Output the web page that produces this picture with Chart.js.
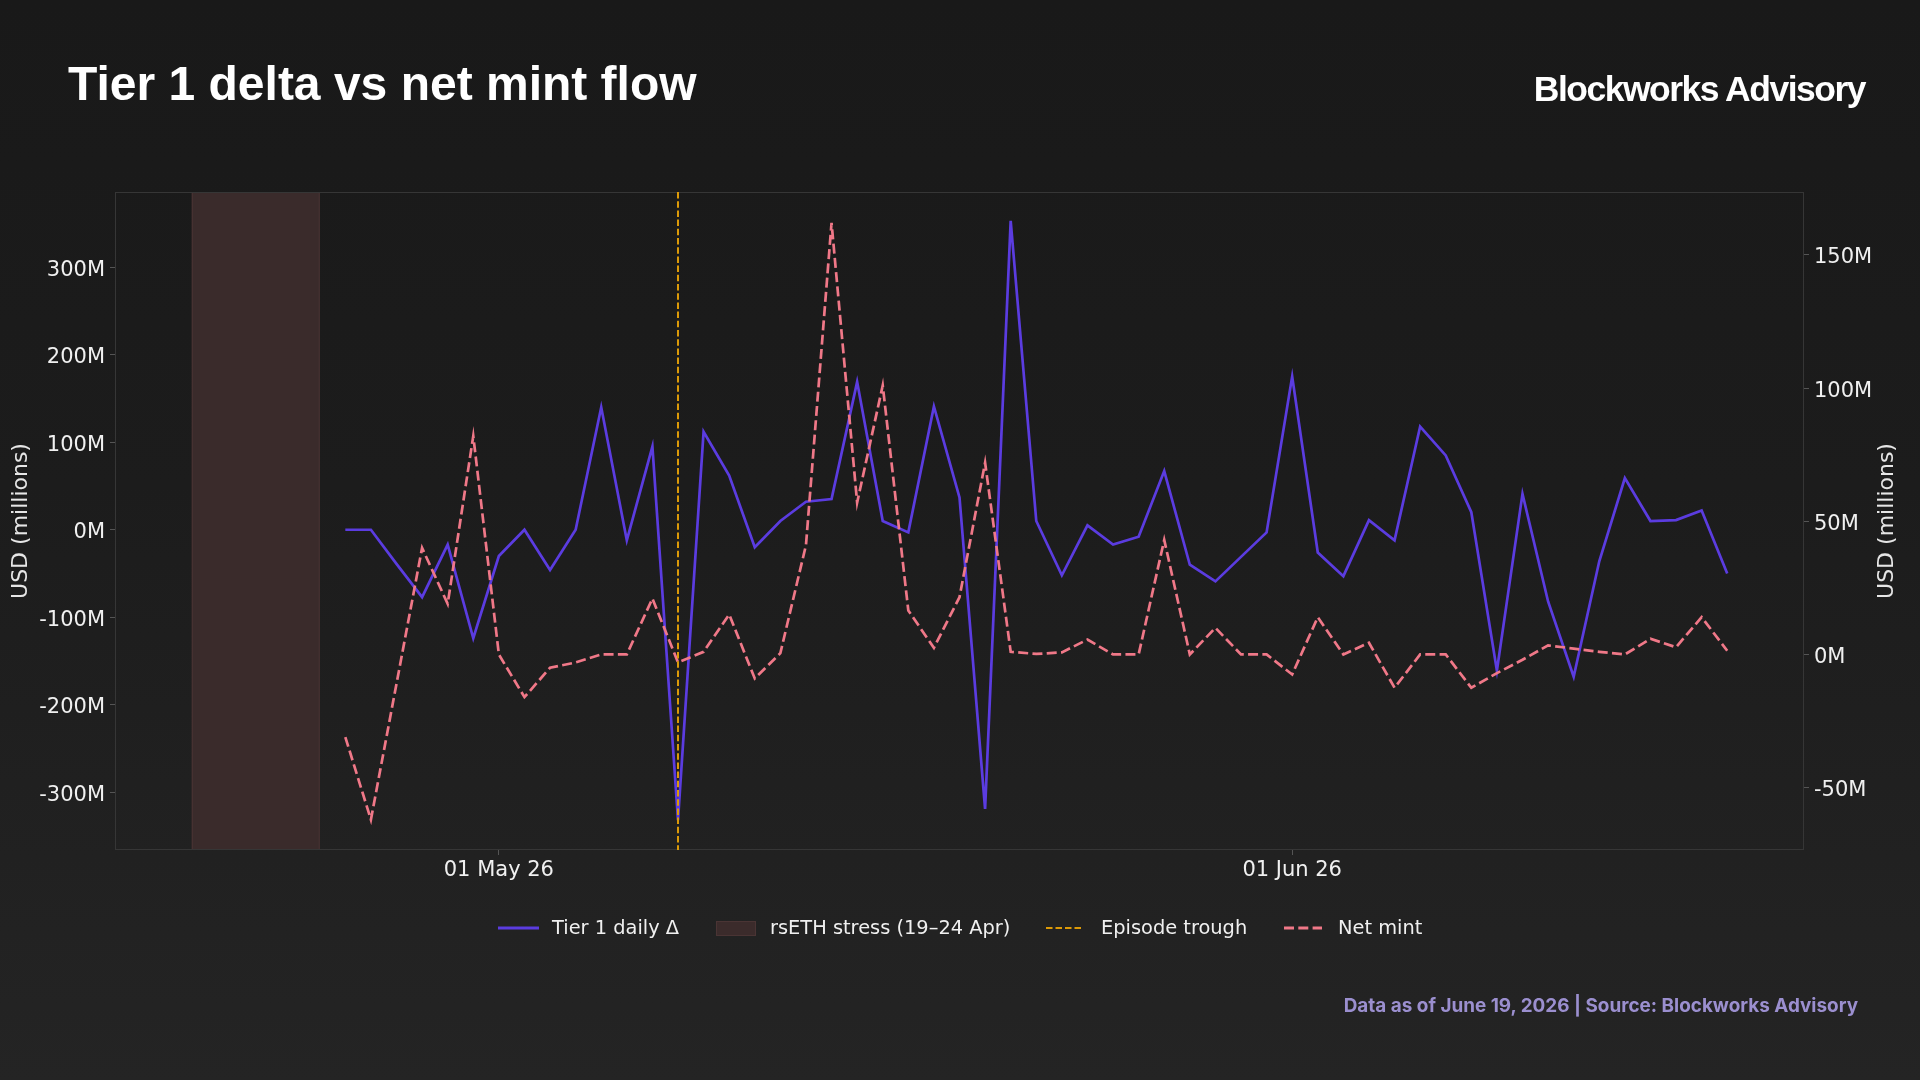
<!DOCTYPE html>
<html><head><meta charset="utf-8">
<script src="https://cdn.jsdelivr.net/npm/chart.js@4.4.1/dist/chart.umd.min.js"></script>
<style>
html,body{margin:0;padding:0;width:1920px;height:1080px;overflow:hidden;}
body{background:linear-gradient(180deg,#191919 0%,#1c1c1c 45%,#242424 100%);position:relative;font-family:'DejaVu Sans',sans-serif;}
#c{position:absolute;left:0;top:0;}
.t{position:absolute;white-space:nowrap;}
#title{left:68px;top:60px;font:bold 48px 'Liberation Sans',Arial,sans-serif;line-height:48px;color:#fff;}
#brand{right:55px;top:72px;font:bold 35.5px 'Liberation Sans',Arial,sans-serif;line-height:35px;letter-spacing:-1.5px;color:#fff;}
#foot{right:62px;top:997px;font:700 18.9px Inter,sans-serif;line-height:18px;color:#9b8fcf;}
.lg{position:absolute;top:916px;font:19.4px 'DejaVu Sans',sans-serif;line-height:24px;color:#f0f0f0;white-space:nowrap;}
.sw{position:absolute;}
</style></head>
<body>
<canvas id="c" width="1920" height="1080"></canvas>
<div id="title" class="t">Tier 1 delta vs net mint flow</div>
<div id="brand" class="t">Blockworks Advisory</div>
<svg class="sw" style="left:498px;top:920px" width="42" height="16"><line x1="0" y1="8" x2="41" y2="8" stroke="#5b3ce0" stroke-width="3"/></svg>
<div class="lg" style="left:552px">Tier 1 daily Δ</div>
<svg class="sw" style="left:716px;top:921px" width="40" height="15"><rect x="0.5" y="0.5" width="39" height="14" fill="#3b2b2b" stroke="#4a3434"/></svg>
<div class="lg" style="left:770px">rsETH stress (19–24 Apr)</div>
<svg class="sw" style="left:1046px;top:920px" width="40" height="16"><line x1="0" y1="8" x2="38" y2="8" stroke="#dc9a08" stroke-width="2" stroke-dasharray="6.5,3"/></svg>
<div class="lg" style="left:1101px">Episode trough</div>
<svg class="sw" style="left:1284px;top:920px" width="40" height="16"><line x1="0" y1="8" x2="38" y2="8" stroke="#f07888" stroke-width="3" stroke-dasharray="10,4.3"/></svg>
<div class="lg" style="left:1338px">Net mint</div>
<div id="foot" class="t">Data as of June 19, 2026 | Source: Blockworks Advisory</div>
<script>
// ---- data ----
const dates = [
 '2026-04-25','2026-04-26','2026-04-27','2026-04-28','2026-04-29','2026-04-30',
 '2026-05-01','2026-05-02','2026-05-03','2026-05-04','2026-05-05','2026-05-06','2026-05-07','2026-05-08','2026-05-09','2026-05-10',
 '2026-05-11','2026-05-12','2026-05-13','2026-05-14','2026-05-15','2026-05-16','2026-05-17','2026-05-18','2026-05-19','2026-05-20',
 '2026-05-21','2026-05-22','2026-05-23','2026-05-24','2026-05-25','2026-05-26','2026-05-27','2026-05-28','2026-05-29','2026-05-30','2026-05-31',
 '2026-06-01','2026-06-02','2026-06-03','2026-06-04','2026-06-05','2026-06-06','2026-06-07','2026-06-08','2026-06-09','2026-06-10',
 '2026-06-11','2026-06-12','2026-06-13','2026-06-14','2026-06-15','2026-06-16','2026-06-17','2026-06-18'
];
const tier1Delta = [
 0, 0, -39, -77, -17, -124,
 -30, 0, -46, 0, 140, -12, 95, -332, 112, 62,
 -20, 10, 32, 35, 169, 10, -3, 141, 37, -319,
 353, 10, -52, 5, -17, -8, 67, -40, -59, -31, -3,
 175, -26, -53, 11, -12, 118, 85, 20, -161, 41,
 -82, -168, -36, 59, 10, 11, 22, -50
];
const netMint = [
 -31, -62, -11, 40, 19, 82,
 0, -16, -5, -3, 0, 0, 21, -3, 1, 15,
 -9, 0.5, 41, 162, 57, 101, 16.5, 2.5, 21.5, 72,
 1, 0.2, 0.8, 5.6, 0, 0, 43, 0, 10, 0, 0,
 -7.5, 14, 0, 4.4, -12.5, 0, 0, -12.5, -7, -2,
 3.4, 2.2, 1, 0, 5.9, 2.7, 14, 1.4
];
const stressStart = '2026-04-19';
const stressEnd = '2026-04-24';
const troughDate = '2026-05-08';
const xRange = ['2026-04-16', '2026-06-21'];
const xTickDates = ['2026-05-01', '2026-06-01'];
const xTickLabels = ['01 May 26', '01 Jun 26'];
const leftTicks = [-300, -200, -100, 0, 100, 200, 300];
const rightTicks = [-50, 0, 50, 100, 150];
const leftRange = [-366, 386];
const rightRange = [-73.4, 173.6];
const axisTitle = 'USD (millions)';

const dayNum = s => Date.UTC(+s.slice(0,4), +s.slice(5,7)-1, +s.slice(8,10)) / 864e5;

const FONT = "'DejaVu Sans', sans-serif";
const overlay = {
  id: 'overlay',
  beforeDatasetsDraw(chart) {
    const {ctx, chartArea: a, scales: {x}} = chart;
    const x0 = x.getPixelForValue(dayNum(stressStart));
    const x1 = x.getPixelForValue(dayNum(stressEnd));
    ctx.save();
    ctx.fillStyle = '#3a2b2b';
    ctx.fillRect(x0, a.top, x1 - x0, a.bottom - a.top);
    ctx.strokeStyle = '#4a3434';
    ctx.lineWidth = 1;
    ctx.beginPath();
    ctx.moveTo(x0 + 0.5, a.top); ctx.lineTo(x0 + 0.5, a.bottom);
    ctx.moveTo(x1 - 0.5, a.top); ctx.lineTo(x1 - 0.5, a.bottom);
    ctx.stroke();
    ctx.strokeStyle = '#363636';
    ctx.strokeRect(a.left + 0.5, a.top + 0.5, a.right - a.left - 1, a.bottom - a.top - 1);
    ctx.restore();
  },
  afterDatasetsDraw(chart) {
    const {ctx, chartArea: a, scales: {x}} = chart;
    const xt = x.getPixelForValue(dayNum(troughDate));
    ctx.save();
    ctx.strokeStyle = '#dc9a08';
    ctx.lineWidth = 2;
    ctx.setLineDash([6.5, 2.7]);
    ctx.beginPath();
    ctx.moveTo(xt, a.top); ctx.lineTo(xt, a.bottom);
    ctx.stroke();
    ctx.restore();
  },
  afterDraw(chart) {
    const {ctx, chartArea: a} = chart;
    const cy = (a.top + a.bottom) / 2;
    ctx.save();
    ctx.fillStyle = '#e6e6e6';
    ctx.font = '22px ' + FONT;
    ctx.textAlign = 'center';
    ctx.textBaseline = 'middle';
    [21, 1887].forEach(px => {
      ctx.save();
      ctx.translate(px, cy);
      ctx.rotate(-Math.PI / 2);
      ctx.fillText(axisTitle, 0, 0);
      ctx.restore();
    });
    ctx.restore();
  }
};

const tickFont = {family: FONT, size: 21};
new Chart(document.getElementById('c'), {
  type: 'line',
  data: {
    datasets: [
      {
        label: 'Tier 1 daily Δ',
        data: dates.map((d, i) => ({x: dayNum(d), y: tier1Delta[i]})),
        borderColor: '#5b3ce0', borderWidth: 2.7, pointRadius: 0, tension: 0,
        yAxisID: 'y', order: 2
      },
      {
        label: 'Net mint',
        data: dates.map((d, i) => ({x: dayNum(d), y: netMint[i]})),
        borderColor: '#f07888', borderWidth: 2.7, borderDash: [10, 4.3], pointRadius: 0, tension: 0,
        yAxisID: 'y1', order: 1
      }
    ]
  },
  options: {
    responsive: false, animation: false,
    layout: {padding: {top: 192, bottom: 190, left: 0, right: 0}},
    plugins: {legend: {display: false}, tooltip: {enabled: false}},
    scales: {
      x: {
        type: 'linear', min: dayNum(xRange[0]), max: dayNum(xRange[1]),
        afterBuildTicks: s => { s.ticks = xTickDates.map(d => ({value: dayNum(d)})); },
        afterFit: s => { s.height = 40; },
        ticks: {
          color: '#f0f0f0', font: tickFont, padding: 3, maxRotation: 0, autoSkip: false,
          callback: v => { const i = xTickDates.findIndex(d => dayNum(d) === v); return i >= 0 ? xTickLabels[i] : ''; }
        },
        grid: {drawOnChartArea: false, color: '#555', tickLength: 5},
        border: {display: false}
      },
      y: {
        position: 'left', min: leftRange[0], max: leftRange[1],
        afterBuildTicks: s => { s.ticks = leftTicks.map(v => ({value: v})); },
        afterFit: s => { s.width = 115; },
        ticks: {color: '#f0f0f0', font: tickFont, padding: 5, labelOffset: 3, callback: v => v + 'M'},
        grid: {drawOnChartArea: false, color: '#555', tickLength: 5},
        border: {display: false}
      },
      y1: {
        position: 'right', min: rightRange[0], max: rightRange[1],
        afterBuildTicks: s => { s.ticks = rightTicks.map(v => ({value: v})); },
        afterFit: s => { s.width = 116; },
        ticks: {color: '#f0f0f0', font: tickFont, padding: 5, labelOffset: 3, callback: v => v + 'M'},
        grid: {drawOnChartArea: false, color: '#555', tickLength: 5},
        border: {display: false}
      }
    }
  },
  plugins: [overlay]
});
</script>
</body></html>
